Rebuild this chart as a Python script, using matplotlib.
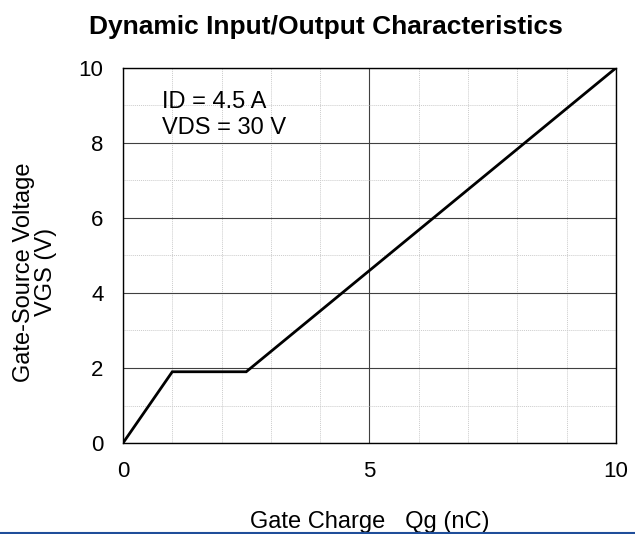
import matplotlib
matplotlib.use("Agg")
import matplotlib.pyplot as plt
from matplotlib.lines import Line2D
import numpy as np

# Data
qg = [0, 1.0, 2.5, 10.0]
vgs = [0, 1.9, 1.9, 10.0]
x_ticks = [0, 5, 10]
y_ticks = [0, 2, 4, 6, 8, 10]
title = "Dynamic Input/Output Characteristics"
xlabel = "Gate Charge   Qg (nC)"
ylabel = "Gate-Source Voltage\nVGS (V)"
annot = "ID = 4.5 A\nVDS = 30 V"

plt.rcParams['font.family'] = ['Liberation Sans', 'DejaVu Sans']

fig = plt.figure(figsize=(6.35, 5.34), dpi=100)
ax = fig.add_axes([0.1937, 0.1704, 0.7763, 0.7023])

ax.set_xlim(0, 10)
ax.set_ylim(0, 10)
ax.set_xticks(x_ticks)
ax.set_yticks(y_ticks)
ax.set_xticks(np.arange(0, 11, 1), minor=True)
ax.set_yticks(np.arange(0, 11, 1), minor=True)

ax.grid(which='minor', color='#cccccc', linestyle=(0, (1, 1)), linewidth=0.7)
ax.grid(which='major', color='#404040', linestyle='-', linewidth=0.8)
ax.set_axisbelow(True)

ax.plot(qg, vgs, color='black', linewidth=2.0, solid_joinstyle='miter')

ax.tick_params(axis='both', which='minor', length=0)
ax.tick_params(axis='y', which='major', length=0, labelsize=16, pad=14)
ax.tick_params(axis='x', which='major', length=0, labelsize=16, pad=13)
for s in ax.spines.values():
    s.set_linewidth(1.0)
    s.set_color('black')

ax.set_title(title, fontsize=19, fontweight='bold', pad=24.5, x=0.411)
ax.set_xlabel(xlabel, fontsize=17, labelpad=20.5)
ax.set_ylabel(ylabel, fontsize=17, linespacing=1.0)
ax.yaxis.set_label_coords(-0.134, 0.455)

ax.text(0.8, 8.75, annot, fontsize=17, ha='left', va='center', linespacing=1.2)

fig.add_artist(Line2D([0, 1], [1.5/534, 1.5/534], transform=fig.transFigure, color='#1f4e9a', linewidth=1.5))

fig.savefig("out.png", dpi=100)
